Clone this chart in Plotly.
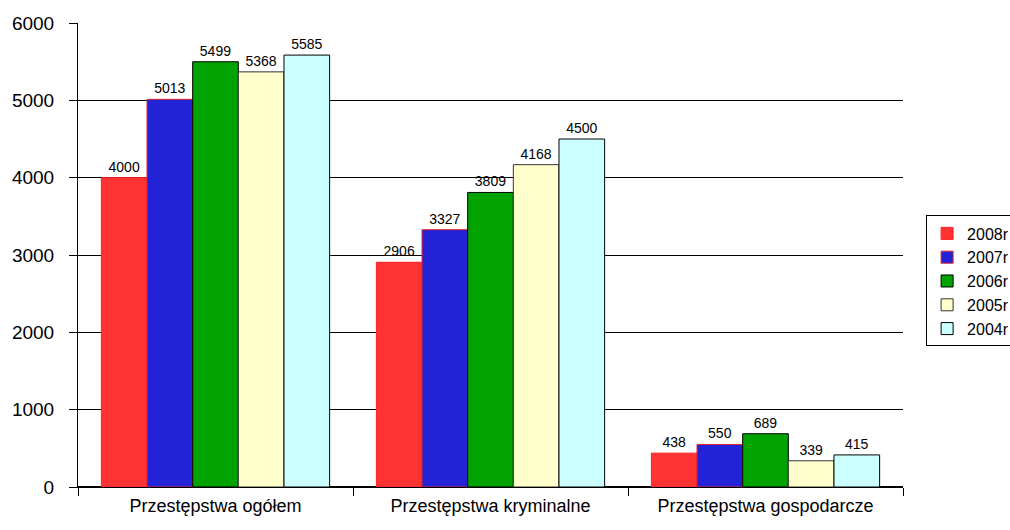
import plotly.graph_objects as go

categories = ["Przestępstwa ogółem", "Przestępstwa kryminalne", "Przestępstwa gospodarcze"]
series_names = ["2008r", "2007r", "2006r", "2005r", "2004r"]
v2008 = [4000, 2906, 438]
v2007 = [5013, 3327, 550]
v2006 = [5499, 3809, 689]
v2005 = [5368, 4168, 339]
v2004 = [5585, 4500, 415]
values = [v2008, v2007, v2006, v2005, v2004]

fills = ["#FF3333", "#2222D6", "#00A300", "#FFFFCC", "#CCFFFF"]
edges = ["#FF2020", "#E0202A", "#000000", "#333333", "#000000"]

fig = go.Figure()
for name, vals, fc, ec in zip(series_names, values, fills, edges):
    fig.add_trace(go.Bar(
        x=categories, y=vals, name=name,
        marker=dict(color=fc, line=dict(color=ec, width=1)),
        text=[str(v) for v in vals], textposition="outside",
        textfont=dict(family="Liberation Sans, Arial", size=14, color="black"),
        cliponaxis=False,
    ))

fig.update_layout(
    width=1010, height=530,
    barmode="group", bargap=0.17, bargroupgap=0,
    plot_bgcolor="white", paper_bgcolor="white",
    font=dict(family="Liberation Sans, Arial", color="black"),
    margin=dict(l=78, r=107, t=23, b=43, autoexpand=False),
    xaxis=dict(
        tickson="boundaries", ticks="outside", ticklen=8, tickcolor="black",
        showline=True, linecolor="black", linewidth=1,
        tickfont=dict(size=18), showgrid=False, ticklabelstandoff=2,
    ),
    yaxis=dict(
        range=[0, 6000], dtick=1000, ticks="outside", ticklen=8, tickcolor="black",
        showgrid=True, gridcolor="black", gridwidth=1,
        showline=True, linecolor="black", linewidth=1,
        zeroline=True, zerolinecolor="black",
        tickfont=dict(size=19), ticklabelstandoff=11,
    ),
    showlegend=True,
    legend=dict(
        x=1.028, xanchor="left", y=0.444, yanchor="middle",
        bordercolor="black", borderwidth=1, bgcolor="white",
        font=dict(size=16), traceorder="normal",
        itemwidth=30,
    ),
)

fig.write_html(
    "out.html",
    config={"displayModeBar": False},
    post_script="document.body.style.margin='0';document.documentElement.style.overflow='hidden';",
)
